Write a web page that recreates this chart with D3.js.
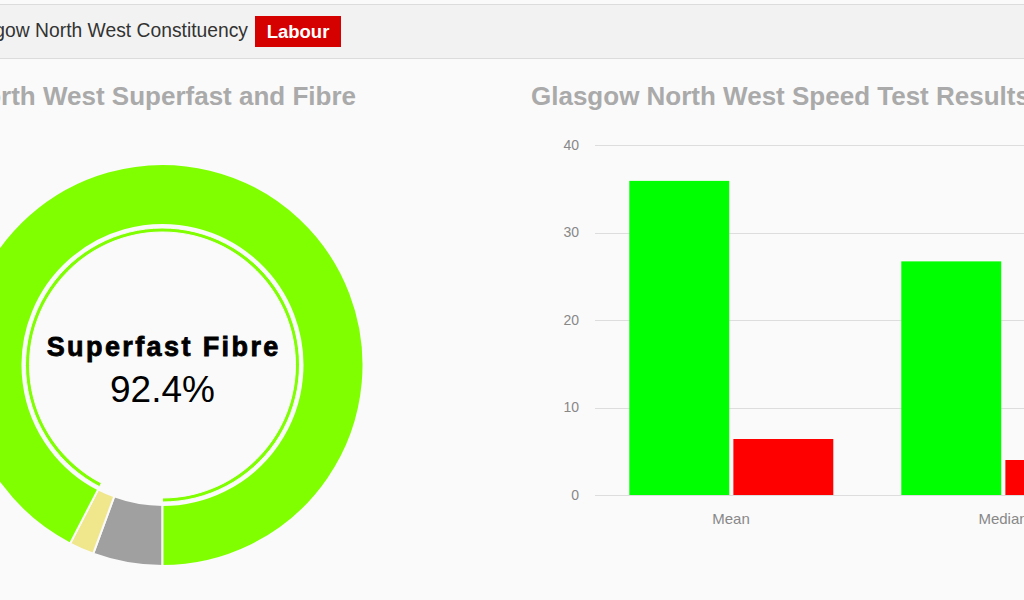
<!DOCTYPE html>
<html>
<head>
<meta charset="utf-8">
<script src="https://cdn.jsdelivr.net/npm/d3@7"></script>
<style>
  html, body { margin: 0; padding: 0; background: #fafafa; overflow: hidden; }
  svg { display: block; font-family: "Liberation Sans", Arial, sans-serif; }
</style>
</head>
<body>
<svg id="chart" width="1024" height="600"></svg>
<script>
// Constituency header
const constituency = "Glasgow North West Constituency";
const party = "Labour";

// Coverage donut: share of premises (%)
const coverageLabels = ["No superfast", "Fibre (not superfast)", "Superfast Fibre"];
const coverageValues = [5.6, 2.0, 92.4];
const coverageColors = ["#a0a0a0", "#f0e68c", "#7fff00"];

// Speed tests (Mbps)
const speedCategories = ["Mean", "Median"];
const speedSeries = ["Download", "Upload"];
const downloadValues = [35.9, 26.7];
const uploadValues = [6.4, 4.0];
const speedColors = ["#00ff00", "#ff0000"];
const yTicks = [0, 10, 20, 30, 40];

const svg = d3.select("#chart");

// ---- header strip ----
svg.append("rect").attr("x", 0).attr("y", 4).attr("width", 1024).attr("height", 54)
  .attr("fill", "#f2f2f2");
svg.append("line").attr("x1", 0).attr("x2", 1024).attr("y1", 4.5).attr("y2", 4.5)
  .attr("stroke", "#dcdcdc");
svg.append("line").attr("x1", 0).attr("x2", 1024).attr("y1", 58.5).attr("y2", 58.5)
  .attr("stroke", "#dcdcdc");
svg.append("text").attr("x", 248).attr("y", 37).attr("text-anchor", "end")
  .attr("font-size", 19.3).attr("fill", "#333").text(constituency);
svg.append("rect").attr("x", 255).attr("y", 16).attr("width", 86).attr("height", 31)
  .attr("fill", "#d50000");
svg.append("text").attr("x", 298).attr("y", 37.5).attr("text-anchor", "middle")
  .attr("font-size", 18.5).attr("font-weight", "bold").attr("fill", "#fff").text(party);

// ---- panel titles ----
svg.append("text").attr("x", 356).attr("y", 104.5).attr("text-anchor", "end")
  .attr("font-size", 26).attr("font-weight", "bold").attr("fill", "#aaaaaa")
  .text("Glasgow North West Superfast and Fibre");
svg.append("text").attr("x", 531).attr("y", 104.5)
  .attr("font-size", 26).attr("font-weight", "bold").attr("fill", "#aaaaaa")
  .text("Glasgow North West Speed Test Results");

// ---- donut ----
const cx = 162.5, cy = 365;
const donut = svg.append("g").attr("transform", `translate(${cx},${cy})`);
const pie = d3.pie().sort(null).value(d => d.v)
  .startAngle(Math.PI).endAngle(3 * Math.PI);
const slices = pie(coverageValues.map((v, i) => ({ v, label: coverageLabels[i], color: coverageColors[i] })));
const outerArc = d3.arc().innerRadius(140).outerRadius(201);
donut.selectAll("path.slice").data(slices).join("path")
  .attr("class", "slice")
  .attr("d", outerArc)
  .attr("fill", d => d.data.color)
  .attr("stroke", "#fafafa").attr("stroke-width", 2);

// thin inner ring highlighting the superfast share
const innerArc = d3.arc().innerRadius(133).outerRadius(137);
const sf = slices[slices.length - 1];
donut.append("path").attr("d", innerArc(sf))
  .attr("fill", sf.data.color).attr("stroke", "#fafafa").attr("stroke-width", 1);

donut.append("text").attr("x", 1.2).attr("y", -9).attr("text-anchor", "middle")
  .attr("font-size", 27).attr("font-weight", "bold").attr("letter-spacing", 2.4)
  .attr("fill", "#000").attr("stroke", "#000").attr("stroke-width", 0.8)
  .text(sf.data.label);
donut.append("text").attr("x", 0).attr("y", 37).attr("text-anchor", "middle")
  .attr("font-size", 37).attr("fill", "#000")
  .text(sf.data.v.toFixed(1) + "%");

// ---- bar chart ----
const plotLeft = 595, plotRight = 1139, plotTop = 145, plotBottom = 495;
const y = d3.scaleLinear().domain([0, 40]).range([plotBottom, plotTop]);
const x0 = d3.scaleBand().domain(speedCategories).range([plotLeft, plotRight]).padding(0);
const x1 = d3.scaleBand().domain(speedSeries).range([34.3, 238.3]).paddingInner(0.04);

const grid = svg.append("g");
grid.selectAll("line").data(yTicks).join("line")
  .attr("x1", plotLeft).attr("x2", 1024)
  .attr("y1", d => Math.round(y(d)) + 0.5).attr("y2", d => Math.round(y(d)) + 0.5)
  .attr("stroke", "#dddddd");

const yAxis = d3.axisLeft(y).tickValues(yTicks).tickSize(0).tickPadding(0);
const yg = svg.append("g").attr("transform", `translate(579,0)`).call(yAxis);
yg.select(".domain").remove();
yg.selectAll("text").attr("font-size", 14).attr("fill", "#888")
  .attr("font-family", "'Liberation Sans', Arial, sans-serif");

const rows = speedCategories.map((c, i) => ({ cat: c, vals: [downloadValues[i], uploadValues[i]] }));
const groups = svg.append("g").selectAll("g").data(rows).join("g")
  .attr("transform", d => `translate(${x0(d.cat)},0)`);
groups.selectAll("rect").data(d => d.vals.map((v, j) => ({ v, s: speedSeries[j], c: speedColors[j] })))
  .join("rect")
  .attr("x", d => x1(d.s))
  .attr("width", x1.bandwidth())
  .attr("y", d => y(d.v))
  .attr("height", d => y(0) - y(d.v))
  .attr("fill", d => d.c);

const xAxis = d3.axisBottom(x0).tickSize(0).tickPadding(0);
const xg = svg.append("g").attr("transform", `translate(0,${plotBottom + 18})`).call(xAxis);
xg.select(".domain").remove();
xg.selectAll("text").attr("font-size", 15).attr("fill", "#888")
  .attr("font-family", "'Liberation Sans', Arial, sans-serif");
</script>
</body>
</html>
